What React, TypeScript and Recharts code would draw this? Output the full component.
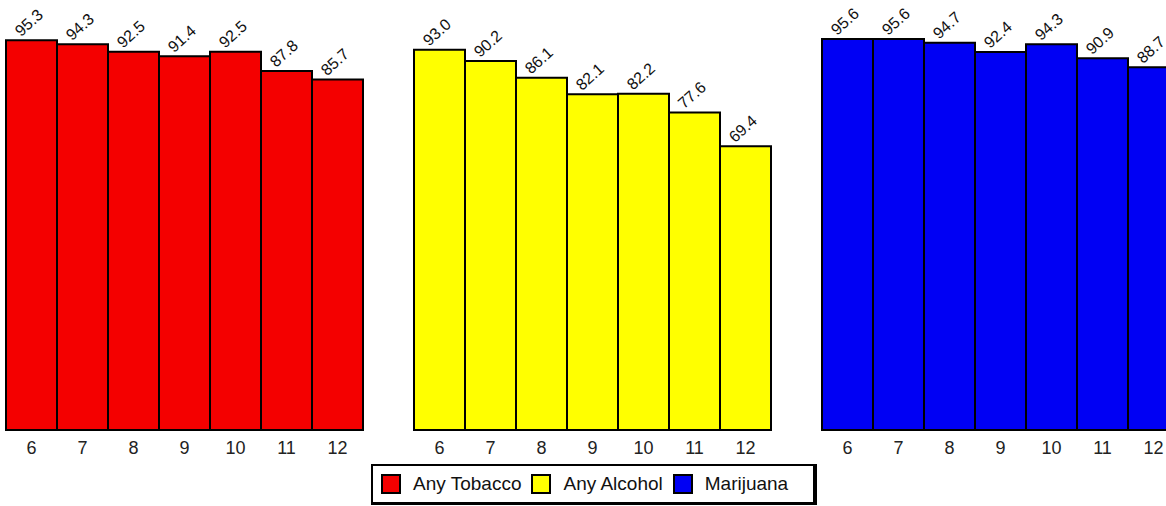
import { Bar, BarChart, Legend, Rectangle, XAxis, YAxis } from "recharts";

const grades = ["6", "7", "8", "9", "10", "11", "12"];
const tobacco = [95.3, 94.3, 92.5, 91.4, 92.5, 87.8, 85.7];
const alcohol = [93.0, 90.2, 86.1, 82.1, 82.2, 77.6, 69.4];
const marijuana = [95.6, 95.6, 94.7, 92.4, 94.3, 90.9, 88.7];

const series = [
  { key: "tobacco", name: "Any Tobacco", color: "#f40000", values: tobacco },
  { key: "alcohol", name: "Any Alcohol", color: "#ffff00", values: alcohol },
  { key: "marijuana", name: "Marijuana", color: "#0000f4", values: marijuana },
];

const FONT = '"Liberation Sans", Arial, Helvetica, sans-serif';

// one row per bar slot, with an empty slot between the three panels
const rows: Record<string, string | number | null>[] = [];
series.forEach((s, p) => {
  if (p > 0) rows.push({ grade: "" });
  grades.forEach((g, i) => {
    const row: Record<string, string | number | null> = { grade: g };
    series.forEach((o) => {
      row[o.key] = o.key === s.key ? s.values[i] : null;
    });
    rows.push(row);
  });
});

// bar rectangle plus its value, written at a slant above the top left corner
function makeShape(key: string) {
  return function BarShape(props: any) {
    const { x, y, width, height, fill, stroke, strokeWidth, payload } = props;
    const value = payload ? payload[key] : null;
    if (value == null || !height) return <g />;
    const ax = x + 15;
    const ay = y - 3;
    return (
      <g>
        <Rectangle x={x} y={y} width={width} height={height} fill={fill} stroke={stroke} strokeWidth={strokeWidth} />
        <g transform={`translate(${ax} ${ay})`}>
          <text x={0} y={0} transform="rotate(-42)" fontSize={16} fontFamily={FONT} fill="#111">
            {Number(value).toFixed(1)}
          </text>
        </g>
      </g>
    );
  };
}

function LegendBox() {
  return (
    <div
      style={{
        boxSizing: "border-box",
        width: 446,
        height: 41,
        border: "2px solid #000",
        borderRightWidth: 4,
        borderBottomWidth: 3,
        background: "#fff",
        display: "flex",
        alignItems: "center",
        paddingLeft: 8,
        fontFamily: FONT,
        fontSize: 19,
        color: "#111",
      }}
    >
      {series.map((s) => (
        <div key={s.key} style={{ display: "flex", alignItems: "center", marginRight: 10 }}>
          <span
            style={{
              boxSizing: "border-box",
              width: 20,
              height: 20,
              background: s.color,
              border: "2px solid #000",
              marginRight: 12,
            }}
          />
          <span>{s.name}</span>
        </div>
      ))}
    </div>
  );
}

export default function App() {
  return (
    <div style={{ position: "absolute", left: 0, top: 0, width: 1166, height: 506, overflow: "hidden", background: "#fff" }}>
      <BarChart
        width={1180}
        height={506}
        data={rows}
        margin={{ top: 21, right: 1, bottom: 1, left: 6 }}
        barCategoryGap={0}
        barGap={0}
      >
        <XAxis
          dataKey="grade"
          axisLine={false}
          tickLine={false}
          tickSize={6}
          tickMargin={5}
          height={34}
          interval={0}
          tick={{ fill: "#222", fontSize: 18, fontFamily: FONT }}
        />
        <YAxis hide domain={[0, 100]} />
        <Legend
          verticalAlign="bottom"
          content={() => <LegendBox />}
          wrapperStyle={{ left: 371, width: 446, bottom: 1 }}
        />
        {series.map((s) => (
          <Bar
            key={s.key}
            dataKey={s.key}
            name={s.name}
            stackId="a"
            fill={s.color}
            stroke="#000"
            strokeWidth={2}
            shape={makeShape(s.key)}
            isAnimationActive={false}
          />
        ))}
      </BarChart>
    </div>
  );
}
